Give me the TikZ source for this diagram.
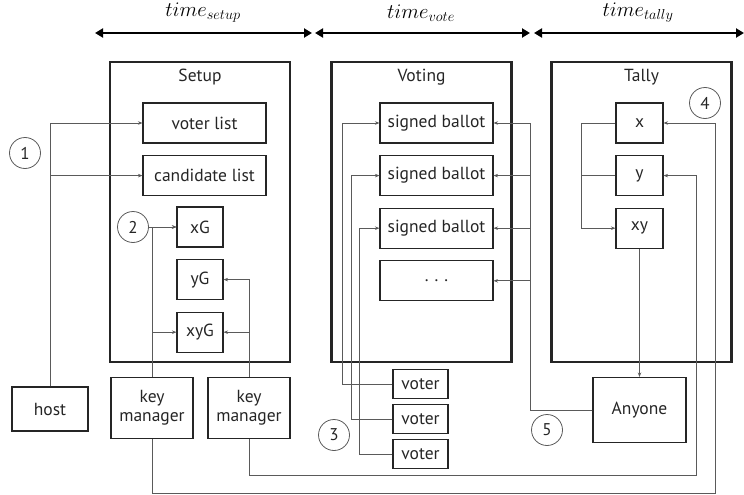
\documentclass[tikz,border=0pt]{standalone}
\usepackage{fontspec}
\setmainfont{PT Sans}
\usetikzlibrary{arrows.meta,positioning}
\definecolor{ink}{HTML}{252525}
\definecolor{wire}{HTML}{5A5A5A}
\tikzset{
  phase/.style={draw=ink,line width=2.4pt,minimum width=180pt,minimum height=300pt,inner sep=0pt},
  item/.style={draw=ink,line width=1.1pt,minimum height=40pt,inner sep=0pt,align=center,font=\fontsize{17.5}{19}\selectfont,text=ink},
  title/.style={font=\fontsize{17.5}{18}\selectfont,text=ink},
  badge/.style={draw=wire,circle,line width=0.8pt,minimum size=31pt,inner sep=0pt,font=\fontsize{17}{18}\selectfont,text=ink},
  arr/.style={-{Stealth[length=4.5pt,width=3.5pt]},draw=wire,line width=0.7pt},
  line/.style={draw=wire,line width=0.7pt},
  span/.style={{Triangle[length=8pt,width=9pt]}-{Triangle[length=8pt,width=9pt]},line width=2.2pt,draw=black}
}

\begin{document}
\begin{tikzpicture}[x=1pt,y=-1pt,node distance=11.5pt]
        \useasboundingbox (0,0) rectangle (744,495);
        % time axis
        \coordinate (t0) at (95,33);
        \coordinate (t1) at (312,33);
        \coordinate (t2) at (315,33);
        \coordinate (t3) at (530,33);
        \coordinate (t4) at (534,33);
        \coordinate (t5) at (744,33);
        \draw[span] (t0) -- (t1);
        \draw[span] (t2) -- (t3);
        \draw[span] (t4) -- (t5);
        \node[font=\fontsize{21}{21}\selectfont] (lsetup) at (203,13) {$time_{setup}$};
        \node[font=\fontsize{21}{21}\selectfont] (lvote) at (421,13) {$time_{vote}$};
        \node[font=\fontsize{21}{21}\selectfont] (ltally) at (638,13) {$time_{tally}$};
        % phases
        \node[phase] (setup) at (200,212) {};
        \node[phase] (voting) at (421.5,212) {};
        \node[phase] (tally) at (641.5,212) {};
        \node[title,below=5pt of setup.north] (tsetup) {Setup};
        \node[title,below=5pt of voting.north] (tvoting) {Voting};
        \node[title,below=5pt of tally.north] (ttally) {Tally};
        % setup
        \node[item,minimum width=123pt] (vlist) at (204.5,123) {voter list};
        \node[item,minimum width=123pt,below=of vlist] (clist) {candidate list};
        \node[item,minimum width=46pt] (xG) at (200,227) {xG};
        \node[item,minimum width=46pt,below=of xG] (yG) {yG};
        \node[item,minimum width=46pt,below=of yG] (xyG) {xyG};
        \node[item,minimum width=76pt,minimum height=44pt] (host) at (50,409) {host};
        \node[item,minimum width=82pt,minimum height=61pt] (km1) at (152,408) {key\\manager};
        \node[item,minimum width=82pt,minimum height=61pt] (km2) at (249,408) {key\\manager};
        % voting
        \node[item,minimum width=113pt] (b1) at (436.5,123) {signed ballot};
        \node[item,minimum width=113pt,below=of b1] (b2) {signed ballot};
        \node[item,minimum width=113pt,below=of b2] (b3) {signed ballot};
        \node[item,minimum width=113pt,below=of b3] (b4) {.\hspace{6pt}.\hspace{6pt}.};
        \node[item,minimum width=55pt,minimum height=29pt] (v1) at (420.5,384) {voter};
        \node[item,minimum width=55pt,minimum height=29pt,below=5pt of v1] (v2) {voter};
        \node[item,minimum width=55pt,minimum height=29pt,below=5pt of v2] (v3) {voter};
        % tally
        \node[item,minimum width=47pt] (tx) at (639.5,123) {x};
        \node[item,minimum width=47pt,below=of tx] (ty) {y};
        \node[item,minimum width=47pt,below=of ty] (txy) {xy};
        \node[item,minimum width=93pt,minimum height=65pt] (any) at (639.5,410) {Anyone};
        % steps
        \node[badge] (c1) at (25,153) {1};
        \node[badge] (c2) at (133,227) {2};
        \node[badge] (c3) at (334,435) {3};
        \node[badge] (c4) at (705,103) {4};
        \node[badge] (c5) at (547,430) {5};
        % connectors
        \draw[arr] (host.north) |- (vlist.west);
        \draw[arr] (host.north) |- (clist.west);
        \draw[arr] (c2) -- (xG);
        \draw[arr] (km1.north) |- (xG.west);
        \draw[arr] (km1.north) |- (xyG.west);
        \draw[arr] (km2.north) |- (yG.east);
        \draw[arr] (km2.north) |- (xyG.east);
        \coordinate (busA) at (715,493);
        \coordinate (busB) at (696,475);
        \draw[arr] (km1.south) |- (busA) |- (tx.east);
        \draw[arr] (km2.south) |- (busB) |- (ty.east);
        \draw[arr] (v1.west) -- ++(-50,0) |- (b1.west);
        \draw[arr] (v2.west) -- ++(-41,0) |- (b2.west);
        \draw[arr] (v3.west) -- ++(-33,0) |- (b3.west);
        \foreach \b in {b1,b2,b3,b4}
          \draw[arr] (any.west) -- ++(-62,0) |- (\b.east);
        \draw[arr] (tx.west) -- ++(-34,0) |- (txy.west);
        \draw[line] (ty.west) -- ++(-34,0);
        \draw[arr] (txy.south) -- (any.north);
      \end{tikzpicture}
\end{document}
